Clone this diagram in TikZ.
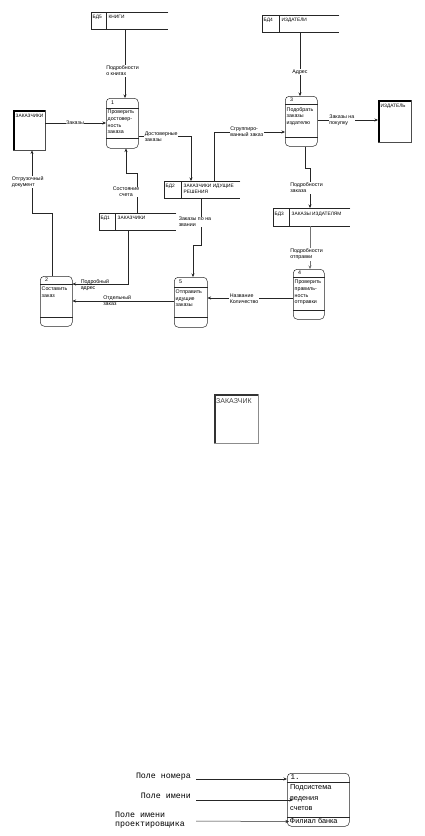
\documentclass[tikz,border=0pt]{standalone}
\usepackage{fontspec}
\setmainfont{Liberation Sans}
\newfontfamily\monofont{Liberation Mono}
\usetikzlibrary{calc,arrows.meta}
\tikzset{
  ln/.style={line width=0.5pt,draw=black!85},
  arr/.style={ln,-{Stealth[length=3.5pt,width=3pt]}},
  lbl/.style={font=\fontsize{5.3}{6}\selectfont,align=left,inner sep=0.6pt,fill=white},
  lblnf/.style={font=\fontsize{5.3}{6}\selectfont,align=left,inner sep=0.6pt},
  proc/.style={ln,rounded corners=4pt,inner sep=0pt,anchor=north west},
  box/.style={inner sep=0pt,anchor=north west},
  ptext/.style={font=\fontsize{5.3}{6.6}\selectfont,align=left,inner sep=0pt,anchor=north west},
  stxt/.style={font=\fontsize{4.8}{5.6}\selectfont,align=left,inner sep=0pt,anchor=north west},
  ent/.style={draw=black!70,line width=0.4pt,inner sep=0pt,anchor=north west},
}
\newcommand{\storebox}[4]{% name, nw, width/height spec, divider offset
}
\begin{document}
\begin{tikzpicture}[x=1pt,y=-1pt]
\useasboundingbox (0,0) rectangle (425,836);

% ---------- data stores ----------
\node[box,minimum width=77pt,minimum height=17pt] (s5) at (91,12) {};
\node[box,minimum width=77pt,minimum height=17pt] (s4) at (262,15) {};
\node[box,minimum width=76pt,minimum height=17pt] (s2) at (164,181) {};
\node[box,minimum width=77pt,minimum height=17pt] (s1) at (99,213) {};
\node[box,minimum width=77pt,minimum height=18pt] (s3) at (273,208) {};
\foreach \s/\d in {s5/15,s4/17,s2/17,s1/16,s3/16}{
  \draw[ln] (\s.north east) -- (\s.north west) -- (\s.south west) -- (\s.south east);
  \draw[ln] ($(\s.north west)+(\d,0)$) -- ($(\s.south west)+(\d,0)$);
}
\node[stxt] (s5a) at ($(s5.north west)+(1.5,3)$) {БД5};
\node[stxt] (s5b) at ($(s5.north west)+(17.5,3)$) {КНИГИ};
\node[stxt] (s4a) at ($(s4.north west)+(1.5,3)$) {БД4};
\node[stxt] (s4b) at ($(s4.north west)+(19.5,3)$) {ИЗДАТЕЛИ};
\node[stxt] (s2a) at ($(s2.north west)+(1.5,3)$) {БД2};
\node[stxt] (s2b) at ($(s2.north west)+(19.5,3)$) {ЗАКАЗЧИКИ ИДУЩИЕ\\РЕШЕНИЯ};
\node[stxt] (s1a) at ($(s1.north west)+(1.5,3)$) {БД1};
\node[stxt] (s1b) at ($(s1.north west)+(18.5,3)$) {ЗАКАЗЧИКИ};
\node[stxt] (s3a) at ($(s3.north west)+(1.5,3.5)$) {БД3};
\node[stxt] (s3b) at ($(s3.north west)+(18.5,3.5)$) {ЗАКАЗЫ ИЗДАТЕЛЯМ};

% ---------- processes ----------
\node[proc,draw,minimum width=32pt,minimum height=50pt] (p1) at (106,98) {};
\node[proc,draw,minimum width=32pt,minimum height=50pt] (p2) at (40,276) {};
\node[proc,draw,minimum width=32pt,minimum height=50pt] (p3) at (285,96) {};
\node[proc,draw,minimum width=31pt,minimum height=50pt] (p4) at (293,269) {};
\node[proc,draw,minimum width=33pt,minimum height=50pt] (p5) at (174,277) {};
\foreach \p/\a/\b in {p1/10/40,p2/8/41,p3/8/41,p4/8/41,p5/10/40}{
  \draw[ln] ($(\p.north west)+(0,\a)$) -- ($(\p.north east)+(0,\a)$);
  \draw[ln] ($(\p.north west)+(0,\b)$) -- ($(\p.north east)+(0,\b)$);
}
\node[ptext] (p1n) at ($(p1.north west)+(5,2.5)$) {1};
\node[ptext] (p1t) at ($(p1.north west)+(1.5,12)$) {Проверить\\достовер-\\ность\\заказа};
\node[ptext] (p2n) at ($(p2.north west)+(5,1.5)$) {2};
\node[ptext] (p2t) at ($(p2.north west)+(1.5,11)$) {Составить\\заказ};
\node[ptext] (p3n) at ($(p3.north west)+(5,1.5)$) {3};
\node[ptext] (p3t) at ($(p3.north west)+(1.5,11)$) {Подобрать\\заказы\\издателю};
\node[ptext] (p4n) at ($(p4.north west)+(5,1.5)$) {4};
\node[ptext] (p4t) at ($(p4.north west)+(1.5,11)$) {Проверить\\правиль-\\ность\\отправки};
\node[ptext] (p5n) at ($(p5.north west)+(5,2.5)$) {5};
\node[ptext] (p5t) at ($(p5.north west)+(1.5,12.5)$) {Отправить\\идущие\\заказы};

% ---------- external entities ----------
\node[ent,draw,minimum width=32pt,minimum height=40pt] (e1) at (13,110) {};
\node[ent,draw,minimum width=33pt,minimum height=42pt] (e2) at (378,100) {};
\node[ent,draw=black!45,minimum width=44pt,minimum height=49pt] (e3) at (214,394) {};
\foreach \e in {e1,e2}{
  \draw[line width=1.6pt] ($(\e.south west)+(0.8,0)$) -- ($(\e.north west)+(0.8,0.8)$) -- ($(\e.north east)+(0,0.8)$);
}
\draw[line width=1.6pt,black!80] ($(e3.south west)+(0.8,0)$) -- ($(e3.north west)+(0.8,0.8)$) -- ($(e3.north east)+(0,0.8)$);
\node[stxt] (e1t) at ($(e1.north west)+(2.5,4)$) {ЗАКАЗЧИКИ};
\node[stxt] (e2t) at ($(e2.north west)+(2.5,4)$) {ИЗДАТЕЛЬ};
\node[inner sep=0pt,anchor=north west,font=\fontsize{7}{8}\selectfont,text=black!75] (e3t) at ($(e3.north west)+(2,4)$) {ЗАКАЗЧИК};

% ---------- data flows ----------
\draw[arr] ($(s5.south west)+(34,0)$) -- ($(p1.north west)+(19,0)$);
\draw[arr] ($(e1.north east)+(0,13)$) -- ($(p1.north west)+(0,25)$);
\draw[arr] ($(s1.north west)+(38,0)$) -- ++(0,-40) -| ($(p1.south west)+(20,0)$);
\draw[arr] ($(p1.north east)+(0,38)$) -| ($(s2.north west)+(27,0)$);
\draw[arr] ($(s2.north west)+(50,0)$) |- ($(p3.north west)+(0,36)$);
\draw[arr] ($(s4.south west)+(38,0)$) -- ($(p3.north west)+(15,0)$);
\draw[arr] ($(p3.north east)+(0,24)$) -- ($(e2.north west)+(0,20)$);
\draw[arr] ($(p3.south west)+(20,0)$) -- ++(0,22) -| ($(s3.north west)+(37,0)$);
\draw[arr,draw=black!55] ($(s3.south west)+(37,0)$) -- ($(p4.north west)+(17,0)$);
\draw[arr] ($(p4.north west)+(0,29)$) -- ($(p5.north east)+(0,21)$);
\draw[arr] ($(s2.south west)+(37,0)$) -- ++(0,47) -| ($(p5.north west)+(19,0)$);
\draw[arr] ($(s1.south west)+(29,0)$) |- ($(p2.north east)+(0,8)$);
\draw[arr] ($(p5.north west)+(0,24)$) -- ($(p2.north east)+(0,25)$);
\draw[arr] ($(p2.north west)+(12,0)$) -- ++(0,-63) -| ($(e1.south west)+(19,0)$);

% ---------- flow labels ----------
\node[lbl,anchor=west] (f1) at (105.5,71) {Подробности\\о книгах};
\node[lbl] (f2) at (75,123) {Заказы};
\node[lbl,align=center] (f3) at (126,192) {Состояние\\счета};
\node[lbl,anchor=west] (f4) at (144,137) {Достоверные\\заказы};
\node[lbl,anchor=west] (f5) at (229.5,132) {Сгруппиро-\\ванный заказ};
\node[lbl] (f6) at (300,72) {Адрес};
\node[lbl,anchor=west] (f7) at (328.5,120) {Заказы на\\покупку};
\node[lbl,anchor=west] (f8) at (289.5,188) {Подробности\\заказа};
\node[lbl,anchor=west] (f9) at (289.5,254.5) {Подробности\\отправки};
\node[lbl,anchor=west] (f10) at (229,298.5) {Название\\Количество};
\node[lbl,anchor=west] (f11) at (178,222) {Заказы по на\\звании};
\node[lblnf,anchor=west] (f12) at (80,285) {Подробный\\адрес};
\node[lblnf,anchor=west] (f13) at (102.5,301) {Отдельный\\заказ};
\node[lbl,anchor=west] (f14) at (11,182) {Отгрузочный\\документ};

% ---------- legend ----------
\node[proc,draw,minimum width=62pt,minimum height=53pt] (lg) at (287,773) {};
\draw[ln] ($(lg.north west)+(0,9)$) -- ($(lg.north east)+(0,9)$);
\draw[ln] ($(lg.north west)+(0,44)$) -- ($(lg.north east)+(0,44)$);
\node[inner sep=0pt,anchor=north west,font=\monofont\fontsize{7.5}{8}\selectfont] (lgn) at ($(lg.north west)+(3.5,1)$) {1.};
\node[inner sep=0pt,anchor=north west,align=left,font=\fontsize{7.3}{10.4}\selectfont] (lgt) at ($(lg.north west)+(3,11.5)$) {Подсистема\\ведения\\счетов};
\node[inner sep=0pt,anchor=north west,font=\fontsize{7.3}{8}\selectfont] (lgd) at ($(lg.north west)+(2.5,44.5)$) {Филиал банка};
\node[inner sep=0pt,anchor=east,font=\monofont\fontsize{8.3}{9}\selectfont] (l1) at (191,777) {Поле номера};
\node[inner sep=0pt,anchor=east,font=\monofont\fontsize{8.3}{9}\selectfont] (l2) at (191,796) {Поле имени};
\node[inner sep=0pt,anchor=west,align=left,font=\monofont\fontsize{8.3}{9}\selectfont] (l3) at (115,820) {Поле имени\\проектировщика};
\draw[arr] ($(l1.east)+(5,2)$) -- ($(lg.north west)+(0,6)$);
\draw[arr] ($(l2.east)+(5,4)$) -- ($(lg.north west)+(6,27)$);
\draw[arr] ($(l2.east)+(5,25)$) -- ($(lg.south west)+(2,-5)$);
\end{tikzpicture}
\end{document}
